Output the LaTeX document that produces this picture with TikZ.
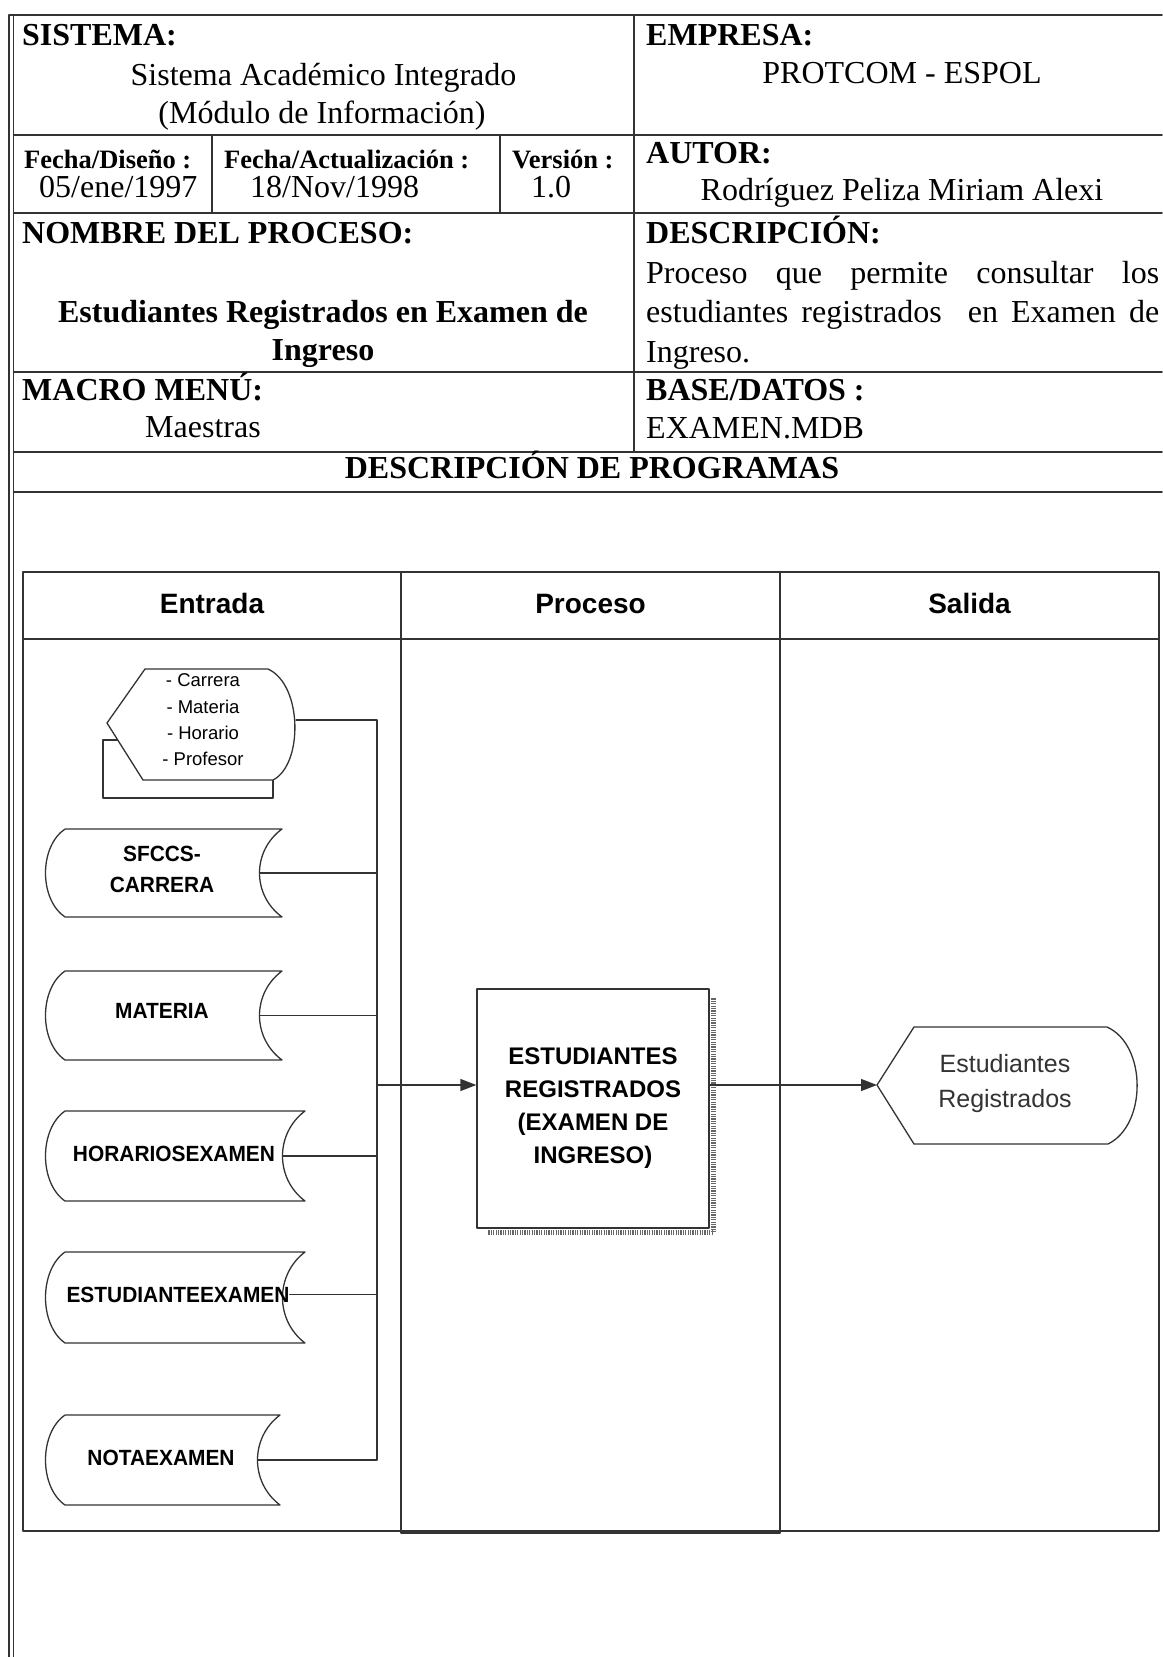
\documentclass[tikz,border=0pt]{standalone}
\usepackage{fontspec}
\setmainfont{Liberation Serif}
\newfontfamily\arialf{Liberation Sans}
\newfontfamily\arialn[FakeStretch=0.95]{Liberation Sans}
\usetikzlibrary{arrows.meta,calc}

% almacenamiento: nombre, x izq., y sup., x der., y inf.
\newcommand\almacen[5]{%
  \draw[linea,fill=white] ({#2+20},#3) -- (#4,#3)
    .. controls ({#4-30},{#3+0.25*(#5-#3)}) and ({#4-30},{#5-0.25*(#5-#3)}) .. (#4,#5)
    -- ({#2+20},#5)
    .. controls ({#2-6},{#5-0.2*(#5-#3)}) and ({#2-6},{#3+0.2*(#5-#3)}) .. ({#2+20},#3);
  \coordinate (#1-out) at ({#4-22.5},{(#3+#5)/2});}

\begin{document}
\begin{tikzpicture}[x=1pt,y=-1pt,line join=round,line cap=round,>={Triangle[length=16pt,width=12pt]},
  tabla/.style={draw=black!80,line width=1.5pt},
  linea/.style={draw=black!80,line width=1.3pt},
  cab/.style={inner sep=0pt,anchor=base west,font=\fontsize{32}{39}\selectfont\bfseries},
  val/.style={inner sep=0pt,anchor=base,font=\fontsize{32}{39}\selectfont},
  peq/.style={inner sep=0pt,anchor=base west,font=\fontsize{26.5}{30}\selectfont\bfseries},
  titulo/.style={inner sep=0pt,anchor=base,font=\arialf\fontsize{28}{32}\selectfont\bfseries},
  alm/.style={inner sep=0pt,align=center,font=\arialn\fontsize{22}{31}\selectfont\bfseries},
  pant/.style={inner sep=0pt,align=center,font=\arialf\fontsize{18.5}{26.3}\selectfont},
  pantsal/.style={inner sep=0pt,align=center,text=black!80,font=\arialf\fontsize{25}{35}\selectfont},
  procbox/.style={draw=black!80,line width=1.3pt,fill=white,minimum width=232pt,minimum height=239pt,
    inner sep=0pt,align=center,font=\arialf\fontsize{24}{33}\selectfont\bfseries},
  sombra/.style={draw=black!60,line width=5pt,dash pattern=on 1.2pt off 1.2pt,line cap=butt}]
\useasboundingbox (0,0) rectangle (1162,1657);

% marco de la ficha
\draw[tabla] (9,15) -- (1162,15);
\draw[tabla] (9,15) -- (9,1657);
\draw[tabla] (13.5,15) -- (13.5,1657);
\foreach \yy in {135,213,372,452,492} \draw[tabla] (13.5,\yy) -- (1162,\yy);
\draw[tabla] (634,15) -- (634,452);
\draw[tabla] (212,135) -- (212,213);
\draw[tabla] (500,135) -- (500,213);

\node[cab] (sistema) at (22,45) {SISTEMA:};
\node[val] (sisval1) at (323.5,85) {Sistema Académico Integrado};
\node[val] (sisval2) at (322,123) {(Módulo de Información)};
\node[cab] (empresa) at (646,45) {EMPRESA:};
\node[val] (empval) at (902,83) {PROTCOM - ESPOL};

\node[peq] (fdis) at (24,168) {Fecha/Diseño :};
\node[val,anchor=base west] (fdisval) at (39,197) {05/ene/1997};
\node[peq] (fact) at (224,168) {Fecha/Actualización :};
\node[val,anchor=base west] (factval) at (250,197) {18/Nov/1998};
\node[peq] (ver) at (512,168) {Versión :};
\node[val] (verval) at (551,197) {1.0};
\node[cab] (autor) at (646,163) {AUTOR:};
\node[val] (autorval) at (902,200) {Rodríguez Peliza Miriam Alexi};

\node[cab] (nombre) at (22,243) {NOMBRE DEL PROCESO:};
\node[val,font=\fontsize{32}{39}\selectfont\bfseries] (nomval1) at (323,322) {Estudiantes Registrados en Examen de};
\node[val,font=\fontsize{32}{39}\selectfont\bfseries] (nomval2) at (323,360) {Ingreso};
\node[cab] (desc) at (646,243) {DESCRIPCIÓN:};
\node[val,anchor=base west] (desc1) at (646,283) {\makebox[513pt][s]{Proceso que permite consultar los}};
\node[val,anchor=base west] (desc2) at (646,322) {\makebox[513pt][s]{estudiantes registrados\ \ en Examen de}};
\node[val,anchor=base west] (desc3) at (646,362) {Ingreso.};

\node[cab] (macro) at (22,400) {MACRO MENÚ:};
\node[val,anchor=base west] (macroval) at (145,437) {Maestras};
\node[cab] (base) at (646,400) {BASE/DATOS :};
\node[val,anchor=base west] (baseval) at (646,438) {EXAMEN.MDB};
\node[val,font=\fontsize{32}{39}\selectfont\bfseries] (descprog) at (592,478) {DESCRIPCIÓN DE PROGRAMAS};

% carriles
\draw[linea] (23,572) rectangle (1159,1531);
\draw[linea] (23,639) -- (1159,639);
\draw[linea] (401,572) -- (401,1533) -- (780,1533) -- (780,572);
\node[titulo] (entrada) at (212,613) {Entrada};
\node[titulo] (proceso) at (590.5,613) {Proceso};
\node[titulo] (salida) at (969.5,613) {Salida};

% pantalla de entrada
\draw[linea,fill=white] (103,740) rectangle (273,798);
\draw[linea,fill=white] (107,723) -- (145,669) -- (268,669) .. controls (303,685) and (303,765) .. (273,780) -- (143,780) -- cycle;
\coordinate (lista-out) at (296,720);
\node[pant] (lista) at (203,720) {- Carrera\\- Materia\\- Horario\\- Profesor};

% tablas
\almacen{carrera}{45}{829}{282}{917}
\almacen{materia}{45}{971}{282}{1060}
\almacen{horarios}{45}{1111}{305}{1201}
\almacen{estexamen}{45}{1252}{305}{1343}
\almacen{nota}{45}{1415}{280}{1505}
\node[alm] (sfccs) at (162,869.5) {SFCCS-\\CARRERA};
\node[alm,anchor=base] (mat) at (162,1018) {MATERIA};
\node[alm,anchor=base] (hor) at (174,1161) {HORARIOSEXAMEN};
\node[alm,anchor=base] (estex) at (178,1302) {ESTUDIANTEEXAMEN};
\node[alm,anchor=base] (notaex) at (161,1465) {NOTAEXAMEN};

% proceso y salida
\node[procbox] (proc) at (593,1108.5) {ESTUDIANTES\\REGISTRADOS\\(EXAMEN DE\\INGRESO)};
\draw[sombra] ($(proc.north east)+(4,10)$) -- ($(proc.south east)+(4,4)$) -- ($(proc.south west)+(12,4)$);
\draw[linea,fill=white] (877,1085) -- (914,1027) -- (1107,1027) .. controls (1147,1045) and (1147,1125) .. (1108,1144) -- (914,1144) -- cycle;
\coordinate (estreg-in) at (877,1085);
\node[pantsal] (estreg) at (1005,1084) {Estudiantes\\Registrados};

% conectores
\coordinate (bus) at (377,1085);
\draw[linea] (lista-out) -| (bus |- nota-out) -- (nota-out);
\foreach \n in {carrera,materia,horarios} \draw[linea] (\n-out) -- (\n-out -| bus);
\draw[linea] (estex.east) -- (estex.east -| bus);
\draw[linea,->] (bus) -- (bus -| proc.west);
\draw[linea,->] (bus -| proc.east) -- (estreg-in);
\end{tikzpicture}
\end{document}
